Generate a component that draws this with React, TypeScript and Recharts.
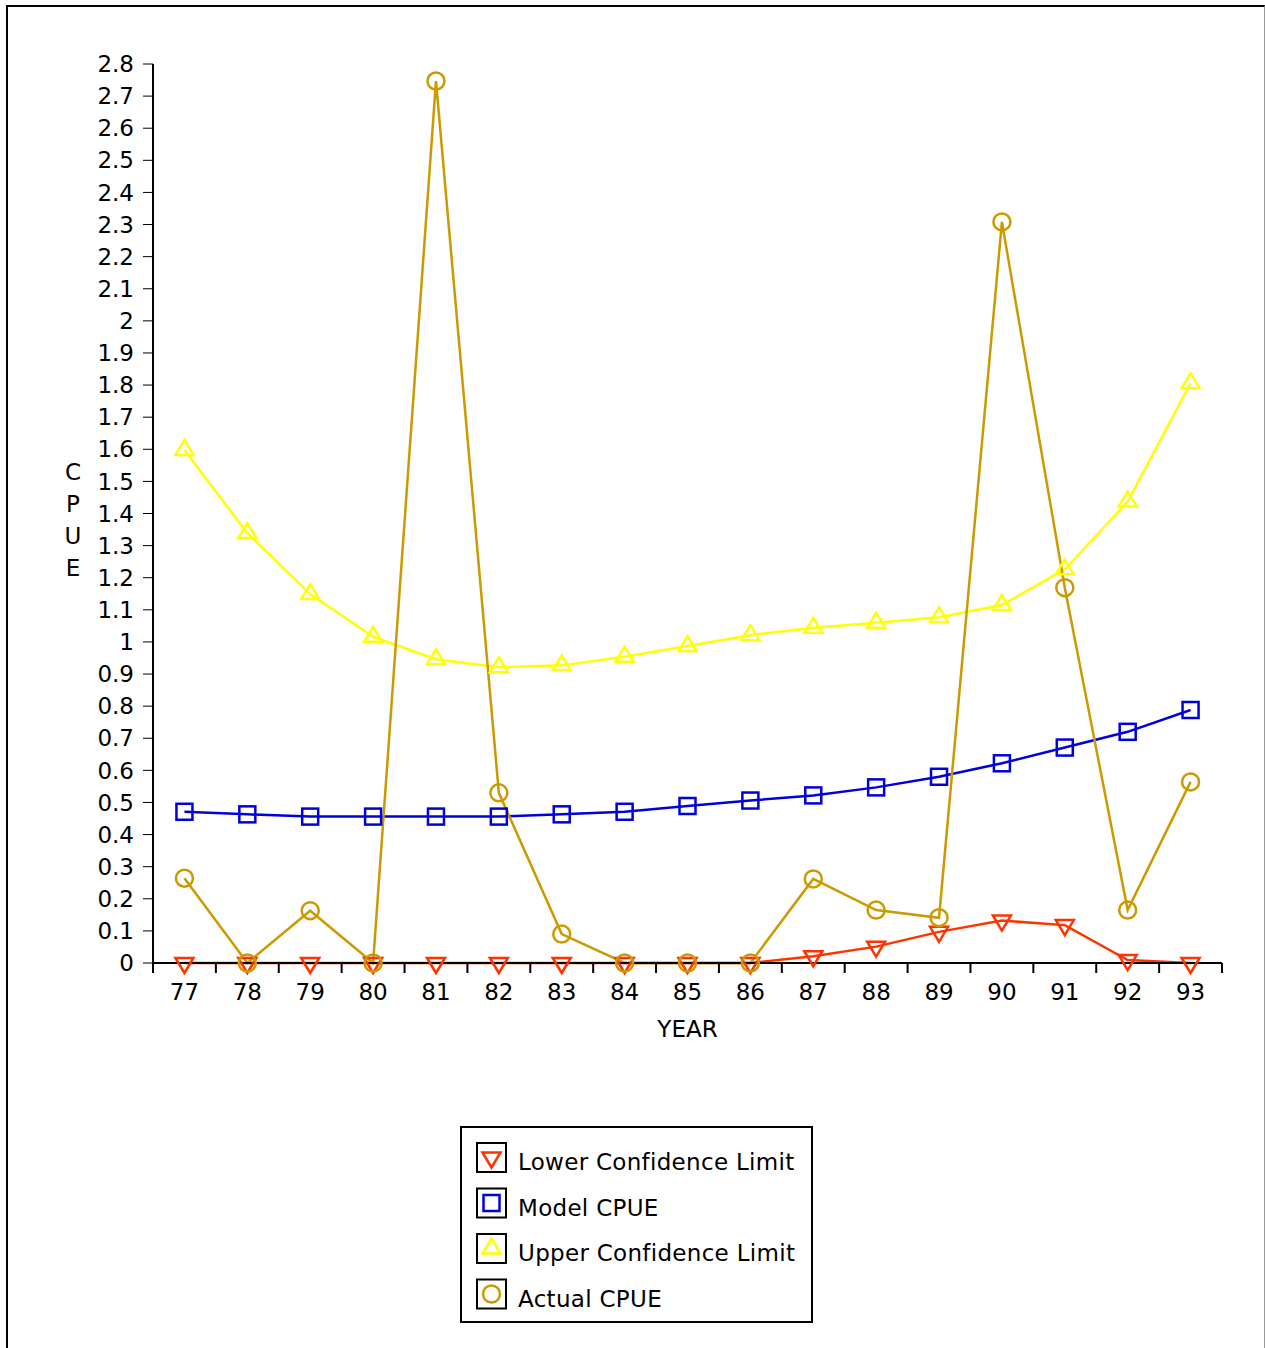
import {LineChart, Line, XAxis, YAxis, Legend} from 'recharts';

const years = [77, 78, 79, 80, 81, 82, 83, 84, 85, 86, 87, 88, 89, 90, 91, 92, 93];
const lowerLimit = [0, 0, 0, 0, 0, 0, 0, 0, 0, 0, 0.021, 0.051, 0.097, 0.132, 0.118, 0.009, 0];
const modelCpue = [0.471, 0.463, 0.456, 0.456, 0.456, 0.456, 0.463, 0.471, 0.489, 0.506, 0.522, 0.547, 0.58, 0.622, 0.671, 0.72, 0.788];
const upperLimit = [1.598, 1.339, 1.149, 1.016, 0.946, 0.921, 0.927, 0.954, 0.987, 1.021, 1.044, 1.06, 1.077, 1.115, 1.226, 1.437, 1.806];
const actualCpue = [0.264, 0, 0.163, 0, 2.747, 0.53, 0.09, 0, 0, 0, 0.262, 0.165, 0.141, 2.308, 1.169, 0.165, 0.564];
const yTicks = [0, 0.1, 0.2, 0.3, 0.4, 0.5, 0.6, 0.7, 0.8, 0.9, 1, 1.1, 1.2, 1.3, 1.4, 1.5, 1.6, 1.7, 1.8, 1.9, 2, 2.1, 2.2, 2.3, 2.4, 2.5, 2.6, 2.7, 2.8];

const FONT = '"DejaVu Sans", Verdana, sans-serif';
const FS = 23;
const RED = '#ff3300';
const BLUE = '#0000dd';
const YELLOW = '#ffff00';
const GOLD = '#cc9900';

const data = years.map((year, i) => ({
  year,
  lower: lowerLimit[i],
  model: modelCpue[i],
  upper: upperLimit[i],
  actual: actualCpue[i],
}));

// tick positions: labels on the years, tick marks between them
const xTicks = [...years, ...years.map((y) => y - 0.5), years[years.length - 1] + 0.5].sort((a, b) => a - b);

type Shape = 'down' | 'square' | 'up' | 'circle';

function Marker({cx, cy, shape, color}: {cx: number; cy: number; shape: Shape; color: string}) {
  const common = {fill: 'none', stroke: color, strokeWidth: 2.5};
  if (shape === 'square') return <rect x={cx - 8} y={cy - 8} width={16} height={16} {...common} />;
  if (shape === 'circle') return <circle cx={cx} cy={cy} r={8.5} {...common} />;
  if (shape === 'up')
    return <polygon points={`${cx},${cy - 10} ${cx - 9},${cy + 5} ${cx + 9},${cy + 5}`} {...common} />;
  return <polygon points={`${cx},${cy + 10} ${cx - 9},${cy - 5} ${cx + 9},${cy - 5}`} {...common} />;
}

const series: {key: string; name: string; color: string; shape: Shape}[] = [
  {key: 'lower', name: 'Lower Confidence Limit', color: RED, shape: 'down'},
  {key: 'model', name: 'Model CPUE', color: BLUE, shape: 'square'},
  {key: 'upper', name: 'Upper Confidence Limit', color: YELLOW, shape: 'up'},
  {key: 'actual', name: 'Actual CPUE', color: GOLD, shape: 'circle'},
];

function YearTick(props: any) {
  const {x, y, payload} = props;
  if (Number.isInteger(payload.value)) {
    return (
      <text x={x} y={y + 21} dy="0.71em" textAnchor="middle" fontSize={FS} fontFamily={FONT} fill="#000">
        {payload.value}
      </text>
    );
  }
  return <line x1={x} x2={x} y1={y} y2={y + 10} stroke="#000" strokeWidth={2} />;
}

function LegendBox() {
  return (
    <svg width={353} height={197} style={{display: 'block'}}>
      <rect x={1} y={1} width={351} height={195} fill="#fff" stroke="#000" strokeWidth={2} />
      {series.map((s, i) => {
        const top = 17 + i * 45.5;
        return (
          <g key={s.key}>
            <rect x={17} y={top} width={29} height={29} fill="none" stroke="#000" strokeWidth={2} />
            <Marker cx={31.5} cy={top + 14.5} shape={s.shape} color={s.color} />
            <text x={58} y={44 + i * 45.5} fontSize={FS} letterSpacing={0.3} fontFamily={FONT} fill="#000">
              {s.name}
            </text>
          </g>
        );
      })}
    </svg>
  );
}

function CpueLabel(props: any) {
  const vb = props.viewBox;
  const cx = vb.x + 73;
  const top = vb.y + vb.height / 2 - 33.5;
  return (
    <text x={cx} y={top} textAnchor="middle" fontSize={FS} fontFamily={FONT} fill="#000">
      {'CPUE'.split('').map((ch, i) => (
        <tspan key={i} x={cx} y={top + i * 32}>
          {ch}
        </tspan>
      ))}
    </text>
  );
}

function YearLabel(props: any) {
  const vb = props.viewBox;
  return (
    <text x={vb.x + vb.width / 2} y={vb.y + 74} textAnchor="middle" fontSize={FS} fontFamily={FONT} fill="#000">
      YEAR
    </text>
  );
}

export default function App() {
  return (
    <div style={{position: 'fixed', left: 0, top: 0, width: 1265, height: 1348, overflow: 'hidden', background: '#fff'}}>
      <div
        style={{
          position: 'absolute',
          left: 6,
          top: 5,
          width: 1259,
          height: 1400,
          boxSizing: 'border-box',
          borderTop: '2px solid #000',
          borderLeft: '2px solid #000',
          borderRight: '1px solid #999',
        }}
      />
      <div style={{position: 'absolute', left: 0, top: 0}}>
        <LineChart width={1265} height={1348} data={data} margin={{top: 64, right: 43, left: 0, bottom: 305}}>
          <XAxis
            dataKey="year"
            type="number"
            domain={[76.5, 93.5]}
            ticks={xTicks}
            interval={0}
            tick={<YearTick />}
            tickLine={false}
            tickSize={0}
            tickMargin={0}
            height={80}
            axisLine={{stroke: '#000', strokeWidth: 2}}
            label={{content: <YearLabel />}}
          />
          <YAxis
            type="number"
            domain={[0, 2.8]}
            ticks={yTicks}
            interval={0}
            width={153}
            tickSize={10}
            tickMargin={9}
            tick={{fontSize: FS, fontFamily: FONT, fill: '#000'}}
            tickLine={{stroke: '#000', strokeWidth: 1}}
            axisLine={{stroke: '#000', strokeWidth: 2}}
            label={{content: <CpueLabel />}}
          />
          <Legend
            layout="horizontal"
            verticalAlign="middle"
            align="center"
            content={<LegendBox />}
            wrapperStyle={{left: 460, top: 1126, width: 353, height: 197}}
          />
          {series.map((s) => (
            <Line
              key={s.key}
              dataKey={s.key}
              name={s.name}
              type="linear"
              stroke={s.color}
              strokeWidth={2.5}
              isAnimationActive={false}
              activeDot={false}
              dot={(p: any) => <Marker key={`${s.key}-${p.index}`} cx={p.cx} cy={p.cy} shape={s.shape} color={s.color} />}
            />
          ))}
        </LineChart>
      </div>
    </div>
  );
}
